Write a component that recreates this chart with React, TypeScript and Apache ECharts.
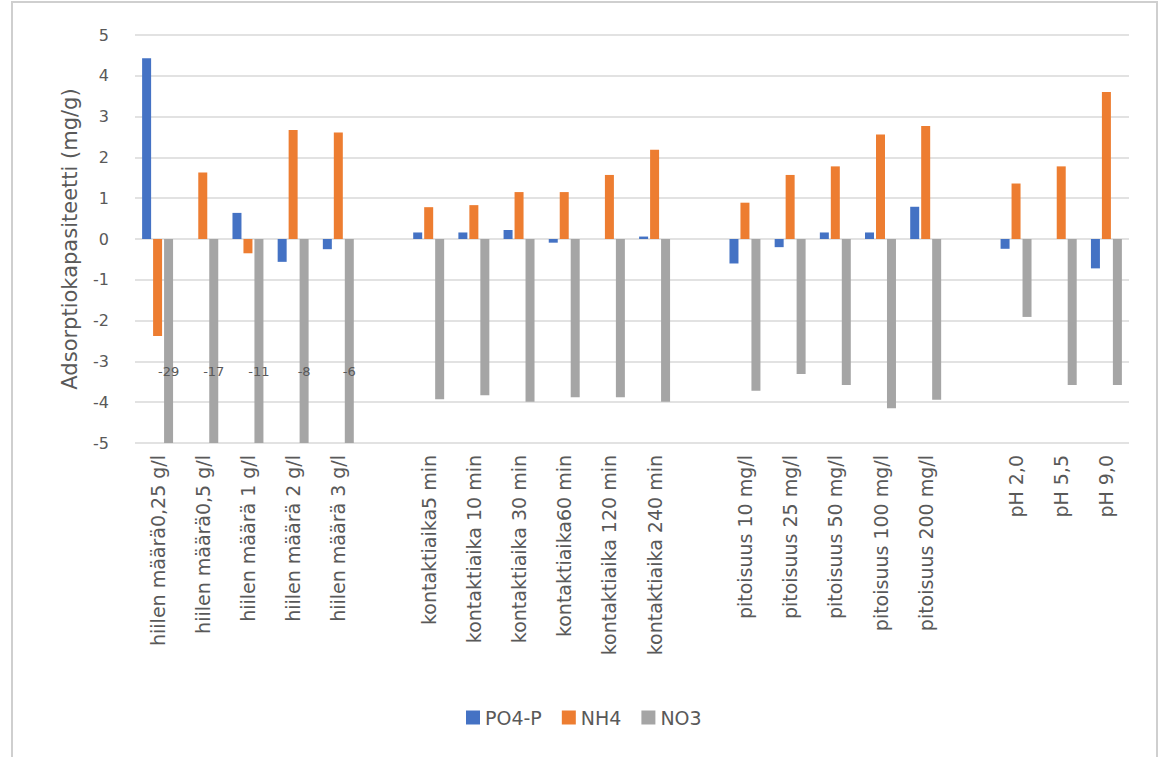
import React, { useEffect, useRef } from "react";
import * as echarts from "echarts";

// Test conditions, blank entries separate the four test groups
const categories = [
  "hiilen määrä0,25 g/l",
  "hiilen määrä0,5 g/l",
  "hiilen määrä 1 g/l",
  "hiilen määrä 2 g/l",
  "hiilen määrä 3 g/l",
  "",
  "kontaktiaika5 min",
  "kontaktiaika 10 min",
  "kontaktiaika 30 min",
  "kontaktiaika60 min",
  "kontaktiaika 120 min",
  "kontaktiaika 240 min",
  "",
  "pitoisuus 10 mg/l",
  "pitoisuus 25 mg/l",
  "pitoisuus 50 mg/l",
  "pitoisuus 100 mg/l",
  "pitoisuus 200 mg/l",
  "",
  "pH 2,0",
  "pH 5,5",
  "pH 9,0",
];

// Adsorption capacity, mg/g
const po4p = [
  4.43, 0, 0.64, -0.56, -0.25, null,
  0.16, 0.16, 0.22, -0.09, 0, 0.06, null,
  -0.6, -0.2, 0.16, 0.16, 0.79, null,
  -0.24, 0, -0.72,
];
const nh4 = [
  -2.38, 1.63, -0.35, 2.67, 2.61, null,
  0.78, 0.83, 1.15, 1.15, 1.57, 2.19, null,
  0.89, 1.57, 1.78, 2.56, 2.77, null,
  1.36, 1.78, 3.6,
];
const no3 = [
  -29, -17, -11, -8, -6, null,
  -3.93, -3.83, -3.99, -3.88, -3.88, -3.99, null,
  -3.72, -3.31, -3.58, -4.15, -3.94, null,
  -1.91, -3.58, -3.58,
];

const yTicks = { min: -5, max: 5, interval: 1 };

const FONT = "DejaVu Sans";
const TEXT = "#595959";

export default function App() {
  const ref = useRef<HTMLDivElement>(null);

  useEffect(() => {
    if (!ref.current) return;
    const chart = echarts.init(ref.current, undefined, { renderer: "svg" });

    // Values beyond the axis range get their value printed on the clipped bar
    const no3Data = no3.map((v) => {
      if (v !== null && v < yTicks.min) {
        return {
          value: v,
          label: {
            show: true,
            position: ["50%", "65%"],
            align: "center",
            verticalAlign: "middle",
            formatter: "{c}",
            fontFamily: FONT,
            fontSize: 13,
            color: TEXT,
          },
        };
      }
      return v;
    });

    const barBase = {
      type: "bar",
      barWidth: 9,
      barGap: "22%",
      clip: true,
      emphasis: { disabled: true },
    };

    chart.setOption({
      animation: false,
      textStyle: { fontFamily: FONT },
      graphic: [
        {
          type: "rect",
          shape: { x: 12, y: 2, width: 1145, height: 800 },
          style: { fill: "none", stroke: "#CFCFCF", lineWidth: 2 },
          silent: true,
        },
      ],
      legend: {
        left: 461,
        top: 703,
        icon: "rect",
        itemWidth: 14,
        itemHeight: 14,
        itemGap: 20,
        textStyle: { fontFamily: FONT, fontSize: 19, color: TEXT },
        data: ["PO4-P", "NH4", "NO3"],
      },
      grid: { left: 135, right: 34, top: 35, bottom: 314, containLabel: false },
      xAxis: {
        type: "category",
        data: categories,
        axisLine: { show: false },
        axisTick: { show: false },
        axisLabel: {
          interval: 0,
          rotate: 90,
          margin: 12,
          fontFamily: FONT,
          fontSize: 19,
          color: TEXT,
        },
        splitLine: { show: false },
      },
      yAxis: {
        type: "value",
        min: yTicks.min,
        max: yTicks.max,
        interval: yTicks.interval,
        name: "Adsorptiokapasiteetti (mg/g)",
        nameLocation: "middle",
        nameGap: 55,
        nameTextStyle: { fontFamily: FONT, fontSize: 21, color: TEXT },
        axisLine: { show: false },
        axisTick: { show: false },
        axisLabel: { margin: 26, fontFamily: FONT, fontSize: 16, color: TEXT },
        splitLine: { lineStyle: { color: "#D9D9D9", width: 1.5 } },
      },
      series: [
        { ...barBase, name: "PO4-P", data: po4p, itemStyle: { color: "#4472C4" } },
        { ...barBase, name: "NH4", data: nh4, itemStyle: { color: "#ED7D31" } },
        { ...barBase, name: "NO3", data: no3Data, itemStyle: { color: "#A5A5A5" } },
      ],
    });

    return () => chart.dispose();
  }, []);

  return (
    <div
      ref={ref}
      style={{ position: "fixed", left: 0, top: 0, width: 1163, height: 757, background: "#fff" }}
    />
  );
}
